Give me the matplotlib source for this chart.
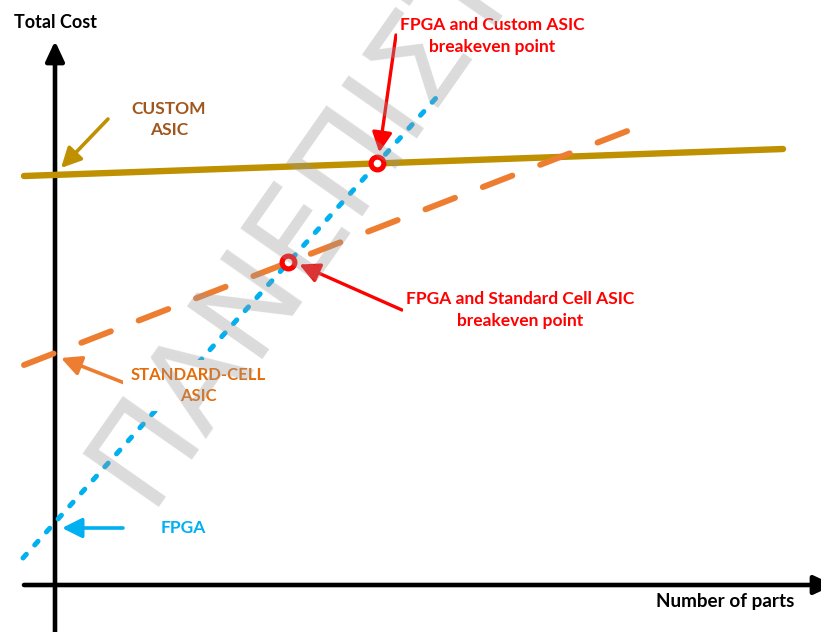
import numpy as np
import matplotlib.pyplot as plt

# --- Cost lines (x: number of parts, y: total cost, arbitrary units) ---
custom_x   = [-3.1, 72.8]
custom_y   = [40.9, 43.6]
standard_x = [-3.1, 59.3]
standard_y = [22.0, 46.2]
fpga_x     = [-3.2, 38.1]
fpga_y     = [2.7, 48.7]

# Colors
GOLD   = "#BF9000"
ORANGE = "#ED7D31"
ORANGE_TXT = "#E46C0A"
BROWN  = "#A0561C"
BLUE   = "#00B0F0"
RED    = "#FF0000"

FONT = ["Lato", "DejaVu Sans"]


def intersect(xa, ya, xb, yb):
    """Crossing point of two straight lines given by two points each."""
    ma = (ya[1] - ya[0]) / (xa[1] - xa[0])
    mb = (yb[1] - yb[0]) / (xb[1] - xb[0])
    ca = ya[0] - ma * xa[0]
    cb = yb[0] - mb * xb[0]
    x = (cb - ca) / (ma - mb)
    return x, ma * x + ca


def arrow(ax, tail, tip, color, lw=2.4, hl=0.6, hw=0.3, ms=20):
    ax.annotate("", xy=tip, xytext=tail,
                arrowprops=dict(arrowstyle=f"-|>,head_length={hl},head_width={hw}",
                                color=color, lw=lw, mutation_scale=ms,
                                shrinkA=0, shrinkB=0, capstyle="round"),
                annotation_clip=False)


fig = plt.figure(figsize=(8.21, 6.32), dpi=100)
ax = fig.add_axes([0, 0, 1, 1])
ax.set_xlim(-5.5, 76.6)
ax.set_ylim(-4.7, 58.5)
ax.axis("off")

# --- Axes with arrow heads ---
arrow(ax, (0, -4.7), (0, 54.4), "black", lw=3.3, hl=0.6, hw=0.28, ms=20)
arrow(ax, (-3.1, 0), (77.9, 0), "black", lw=3.3, hl=0.6, hw=0.28, ms=20)

# --- Cost curves ---
ax.plot(custom_x, custom_y, color=GOLD, lw=4.6, solid_capstyle="round", zorder=3)
ax.plot(standard_x, standard_y, color=ORANGE, lw=4.3,
        linestyle=(0, (5.3, 5.0)), dash_capstyle="round", zorder=3)
ax.plot(fpga_x, fpga_y, color=BLUE, lw=3.6,
        linestyle=(0, (1.0, 2.5)), dash_capstyle="round", zorder=3)

# --- Breakeven points ---
p_custom = intersect(fpga_x, fpga_y, custom_x, custom_y)
p_std    = intersect(fpga_x, fpga_y, standard_x, standard_y)
for p in (p_custom, p_std):
    ax.plot(*p, marker="o", ms=9.2, mfc="white", mec=RED, mew=3.7, zorder=5)

# --- Pointer arrows ---
arrow(ax, (5.3, 46.6), (0.6, 41.7), GOLD, lw=2.6)
arrow(ax, (34.1, 55.0), (p_custom[0] + 0.2, p_custom[1] + 1.1), RED, lw=2.4)
arrow(ax, (34.7, 27.5), (p_std[0] + 1.1, p_std[1] - 0.2), RED, lw=2.4)
arrow(ax, (7.2, 20.1), (0.6, 22.7), ORANGE, lw=2.6)
arrow(ax, (6.8, 5.7), (0.7, 5.7), BLUE, lw=2.6)

# --- Labels (white boxes mask the lines behind them) ---
box = dict(facecolor="white", edgecolor="none", pad=2)
txt = dict(fontweight="bold", family=FONT, ha="center", va="center",
           linespacing=1.45, fontsize=12.5, bbox=box, zorder=6)
ax.text(0, 56.3, "Total Cost", color="black", **{**txt, "fontsize": 13})
ax.text(67.0, -1.6, "Number of parts", color="black", **{**txt, "fontsize": 13.6})
ax.text(11.4, 46.55, "CUSTOM\nASIC", color=BROWN, **txt)
ax.text(43.7, 54.9, "FPGA and Custom ASIC\nbreakeven point", color=RED, **txt)
ax.text(46.5, 27.5, "FPGA and Standard Cell ASIC\nbreakeven point", color=RED, **txt)
ax.text(14.3, 19.95, "STANDARD-CELL\nASIC", color=ORANGE_TXT,
        **{**txt, "fontsize": 12, "bbox": dict(facecolor="white", edgecolor="none", pad=5)})
ax.text(12.8, 5.7, "FPGA", color=BLUE, **txt)

# --- Watermark ---
fig.text(147 / 821, 1 - 507 / 632, "ΠΑΝΕΠΙΣΤΗΜΙΟ", family="DejaVu Sans",
         fontsize=91, color="#999999", alpha=0.35, rotation=55,
         rotation_mode="anchor", ha="left", va="baseline", zorder=10)

fig.savefig("out.png", dpi=100)
